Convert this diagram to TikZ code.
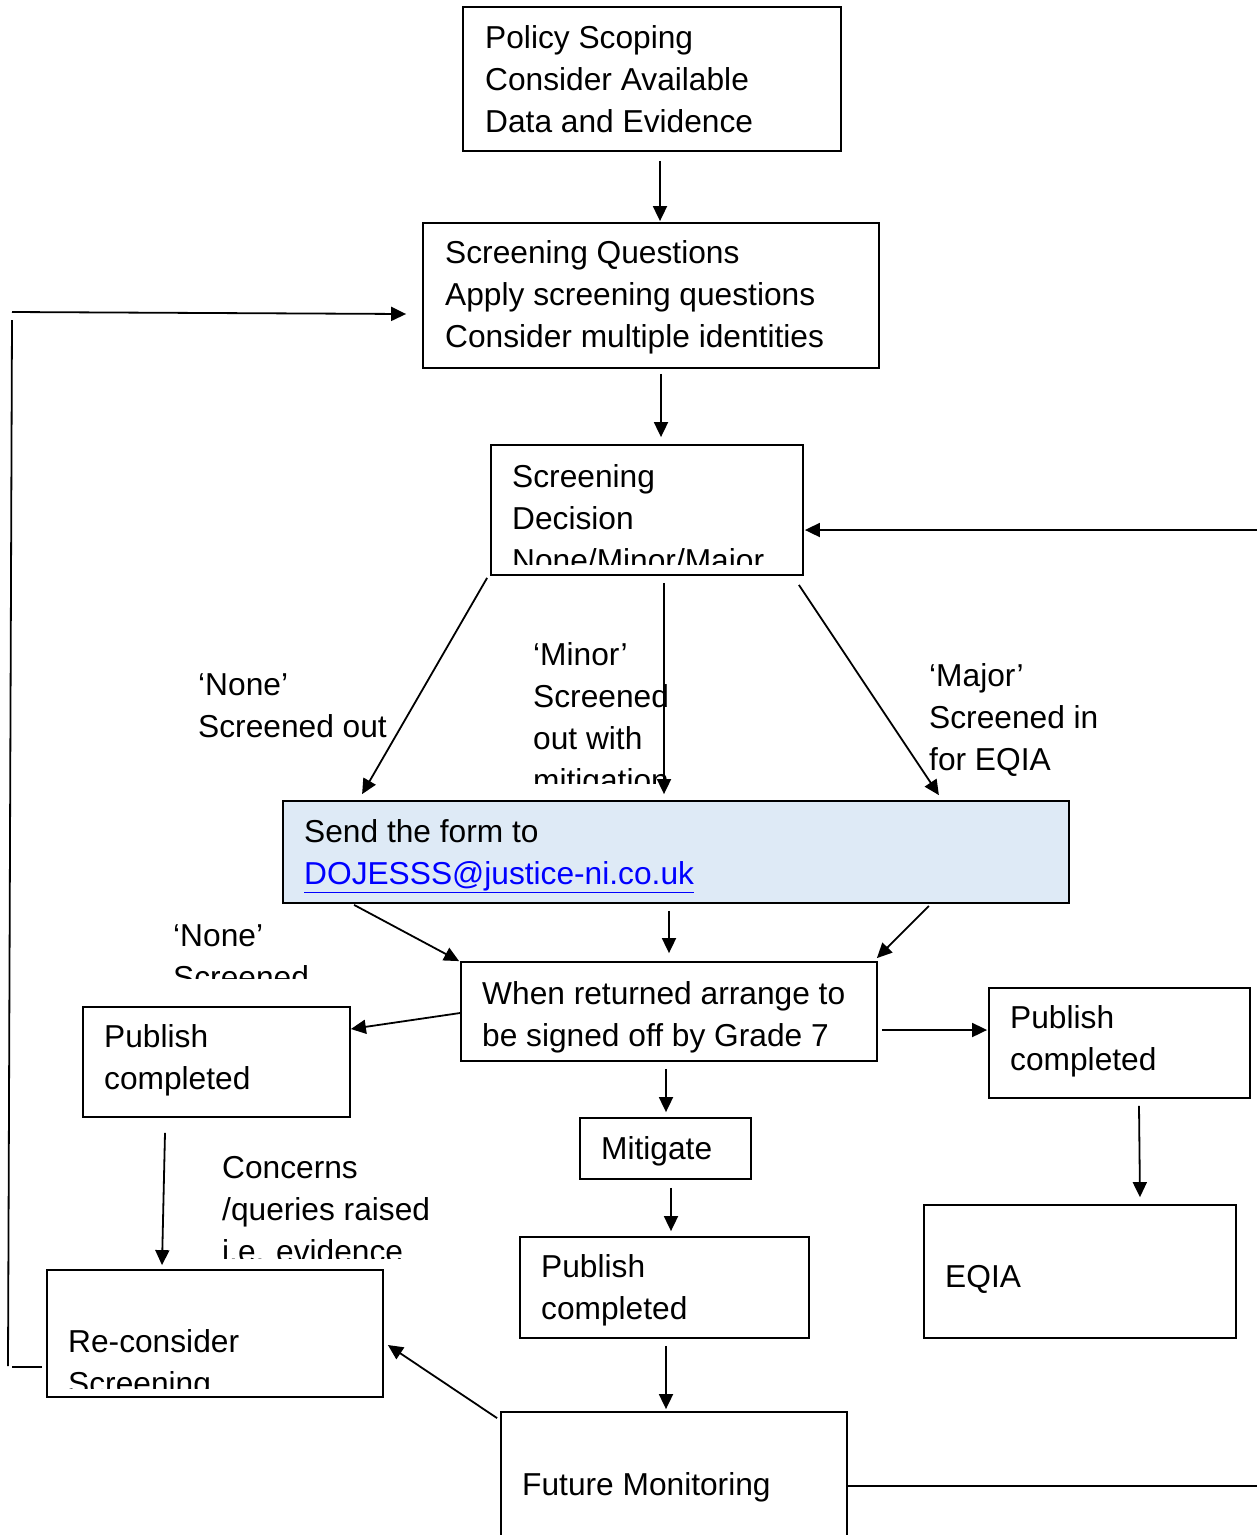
\documentclass[tikz,border=0pt]{standalone}
\usepackage{fontspec}
\setmainfont{Liberation Sans}
\usetikzlibrary{arrows.meta,calc}
\definecolor{boxblue}{HTML}{DEEAF6}
\definecolor{linkblue}{HTML}{0000FF}
\newcommand\mlines[1]{\vtop{\baselineskip=42pt\lineskiplimit=-100pt\def\\{\egroup\hbox\bgroup}\hbox\bgroup#1\egroup}}
\begin{document}
\begin{tikzpicture}[x=1pt,y=-1pt,
  box/.style={draw=black,line width=1.8pt,rectangle,inner sep=0pt},
  txt/.style={anchor=base west,inner sep=0pt,font=\fontsize{31.7}{42}\selectfont},
  arr/.style={line width=1.8pt,-{Triangle[length=15pt,width=14pt]}},
  ln/.style={line width=1.8pt}]
\useasboundingbox (0,0) rectangle (1257,1535);
\clip (0,0) rectangle (1257,1535);
% boxes
\node[box,minimum width=378pt,minimum height=144pt] (b1) at (652,79) {};
\node[box,minimum width=456pt,minimum height=145pt] (b2) at (651,295.5) {};
\node[box,minimum width=312pt,minimum height=130pt] (b3) at (647,510) {};
\node[box,fill=boxblue,minimum width=786pt,minimum height=102pt] (b4) at (676,852) {};
\node[box,minimum width=416pt,minimum height=99pt] (b5) at (669,1011.5) {};
\node[box,minimum width=267pt,minimum height=110pt] (b6) at (216.5,1062) {};
\node[box,minimum width=261pt,minimum height=110pt] (b7) at (1119.5,1043) {};
\node[box,minimum width=171pt,minimum height=61pt] (b8) at (665.5,1148.5) {};
\node[box,minimum width=289pt,minimum height=101pt] (b9) at (664.5,1287.5) {};
\node[box,minimum width=346pt,minimum height=188pt] (b10) at (674,1506) {};
\node[box,minimum width=312pt,minimum height=133pt] (eqia) at (1080,1271.5) {};
\node[box,minimum width=336pt,minimum height=127pt] (rc) at (215,1333.5) {};
% texts
\node[txt] (t1) at (485,48.5) {\mlines{Policy Scoping\\Consider Available\\Data and Evidence}};
\node[txt] (t2) at (445,263.5) {\mlines{Screening Questions\\Apply screening questions\\Consider multiple identities}};
\begin{scope}
\clip (495,450) rectangle (800,564);
\node[txt] (t3) at (512,487) {\mlines{Screening\\Decision\\None/Minor/Major}};
\end{scope}
\node[txt] (lnone) at (198,695.5) {\mlines{‘None’\\Screened out}};
\begin{scope}
\clip (520,630) rectangle (700,783);
\node[txt] (lminor) at (533,665.5) {\mlines{‘Minor’\\Screened\\out with\\mitigation}};
\end{scope}
\node[txt] (lmajor) at (929,686.5) {\mlines{‘Major’\\Screened in\\for EQIA}};
\node[txt] (t4) at (304,842.5) {\mlines{Send the form to\\\textcolor{linkblue}{\underline{DOJESSS@justice-ni.co.uk}}}};
\begin{scope}
\clip (160,910) rectangle (330,978);
\node[txt] (lnone2) at (173,946.5) {\mlines{‘None’\\Screened}};
\end{scope}
\node[txt] (t5) at (482,1004.5) {\mlines{When returned arrange to\\be signed off by Grade 7}};
\node[txt] (t6) at (104,1047.5) {\mlines{Publish\\completed}};
\node[txt] (t7) at (1010,1028.5) {\mlines{Publish\\completed}};
\node[txt] (t8) at (601,1159.5) {Mitigate};
\node[txt] (t9) at (541,1277.5) {\mlines{Publish\\completed}};
\node[txt] (t10) at (522,1495.5) {Future Monitoring};
\node[txt] (teqia) at (945,1287.5) {EQIA};
\begin{scope}
\clip (210,1150) rectangle (450,1258);
\node[txt] (lconc) at (222,1178.5) {\mlines{Concerns\\/queries raised\\i.e. evidence}};
\end{scope}
\begin{scope}
\clip (52,1300) rectangle (380,1388);
\node[txt] (trc) at (68,1352.5) {\mlines{Re-consider\\Screening}};
\end{scope}
% free-end coordinates
\coordinate (lfa) at (12,312);
\coordinate (lfb) at (12,320);
\coordinate (lfc) at (8,1366);
\coordinate (lfd) at (12,1367);
\coordinate (rf) at (1257,530);
\coordinate (rfm) at (1257,1486);
% connectors
\draw[arr] ($(b1.south)+(8,9)$) -- ($(b2.north)+(9,-1)$);
\draw[arr] ($(b2.south)+(10,5)$) -- ($(b3.north)+(14,-7)$);
\draw[arr] (lfa) -- ($(b2.west)+(-16,18.5)$);
\draw[ln] (lfb) -- (lfc);
\draw[ln] ($(rc.west)+(-4,33.5)$) -- (lfd);
\draw[arr] (rf) -- ($(b3.east)+(1,20)$);
\draw[arr] ($(b3.south west)+(-3,2)$) -- ($(b4.north west)+(80,-6)$);
\draw[arr] ($(b3.south)+(17,7)$) -- ($(b4.north)+(-12,-6)$);
\draw[arr] ($(b3.south east)+(-5,9)$) -- ($(b4.north east)+(-131,-5)$);
\draw[arr] ($(b4.south west)+(72,1)$) -- ($(b5.north west)+(-1,0)$);
\draw[arr] ($(b4.south)+(-7,7)$) -- ($(b5.north)+(0,-8)$);
\draw[arr] ($(b4.south east)+(-141,2)$) -- ($(b5.north east)+(-1,-3)$);
\draw[arr] ($(b5.west)+(0,1.5)$) -- ($(b6.east)+(0,-33)$);
\draw[arr] ($(b5.east)+(4,18.5)$) -- ($(b7.west)+(-1,-13)$);
\draw[arr] ($(b5.south)+(-3,7)$) -- ($(b8.north)+(0.5,-5)$);
\draw[arr] ($(b8.south)+(5.5,8)$) -- ($(b9.north)+(6.5,-5)$);
\draw[arr] ($(b9.south)+(1.5,7)$) -- ($(b10.north)+(-8,-2)$);
\draw[arr] ($(b10.north west)+(-3,7)$) -- ($(rc.east)+(4,11.5)$);
\draw[ln] ($(b10.east)+(0,-20)$) -- (rfm);
\draw[arr] ($(b7.south)+(19.5,7)$) -- ($(eqia.north)+(60,-7)$);
\draw[arr] ($(b6.south)+(-51.5,15)$) -- ($(rc.north)+(-53,-4)$);
\end{tikzpicture}
\end{document}
